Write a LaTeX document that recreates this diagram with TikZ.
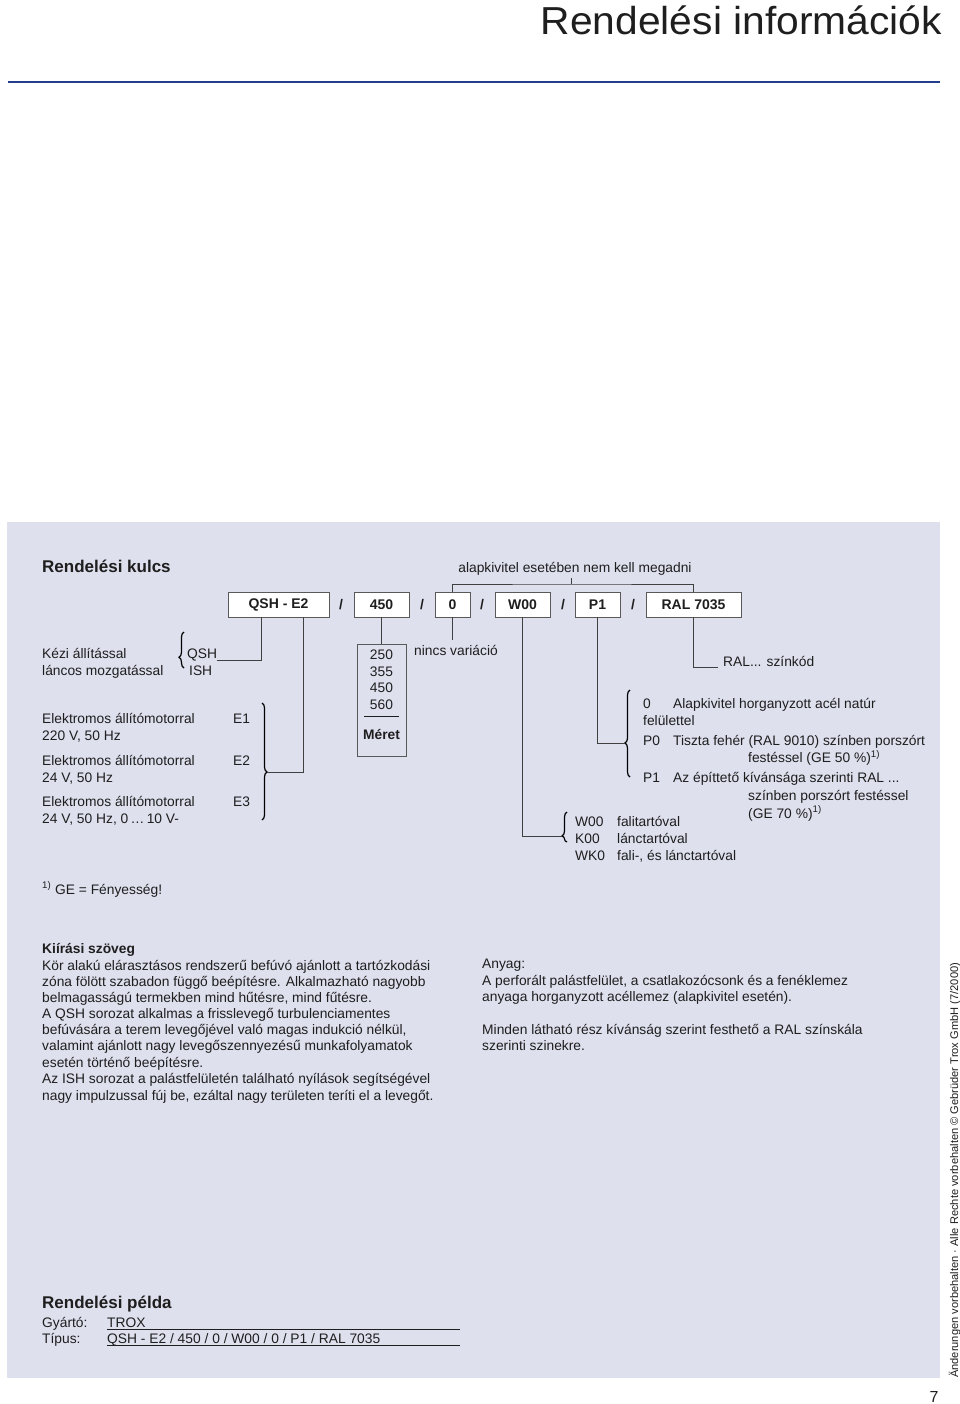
\documentclass[tikz,border=0pt]{standalone}
\usepackage{fontspec}
\setmainfont{Liberation Sans}
\usetikzlibrary{decorations.pathreplacing}
\definecolor{panel}{RGB}{222,224,238}
\definecolor{rulecol}{RGB}{32,62,140}
\definecolor{ink}{RGB}{30,30,30}
\begin{document}
\begin{tikzpicture}[x=1pt,y=-1pt,
  txt/.style={anchor=base west, inner sep=0pt, text=ink, font=\fontsize{13.8}{16}\selectfont},
  ctxt/.style={txt, anchor=base},
  head/.style={txt, font=\bfseries\fontsize{17}{20}\selectfont},
  keybox/.style={draw=black!65, line width=0.9pt, fill=white, inner sep=0pt, minimum height=25pt, text=ink, font=\bfseries\fontsize{14}{16}\selectfont},
  slash/.style={ctxt, font=\bfseries\fontsize{14}{16}\selectfont},
  conn/.style={draw=black!75, line width=0.8pt},
  brc/.style={draw=black, decorate, decoration={brace, amplitude=5pt, aspect=#1}, line width=1.2pt},
  brc/.default=0.5,
]
\useasboundingbox (0,0) rectangle (960,1404);
\fill[white] (0,0) rectangle (960,1404);
% title
\node[anchor=base east, inner sep=0pt, text=ink] (title) at (942,35)
  {\scalebox{1.045}[1]{\fontsize{39}{40}\selectfont Rendelési információk}};
\draw[rulecol, line width=2pt] (8,82) -- (940,82);
% panel
\fill[panel] (7,522) rectangle (940,1378);

\node[head] (hkey) at (42,572) {Rendelési kulcs};
\node[ctxt] (alap) at (575,572) {alapkivitel esetében nem kell megadni};

% key boxes
\node[keybox, minimum width=101pt] (kq) at (278.5,604.5) {QSH - E2};
\node[keybox, minimum width=55pt] (k450) at (381.5,604.5) {450};
\node[keybox, minimum width=35pt] (k0) at (452.5,604.5) {0};
\node[keybox, minimum width=55pt] (kw) at (522.5,604.5) {W00};
\node[keybox, minimum width=45pt] (kp) at (597.5,604.5) {P1};
\node[keybox, minimum width=95pt] (kr) at (693.5,604.5) {RAL 7035};
\node[slash] (s1) at (341,609.5) {/};
\node[slash] (s2) at (422,609.5) {/};
\node[slash] (s3) at (482,609.5) {/};
\node[slash] (s4) at (563,609.5) {/};
\node[slash] (s5) at (633,609.5) {/};

% bracket over optional parts
\coordinate (bk) at (571,584);
\coordinate (bktop) at (571,578);
\draw[conn] (k0.north) |- (bk) -| (kr.north);
\draw[conn] (bk) -- (bktop);

% left descriptions
\node[txt] (kezi1) at (42,658) {Kézi állítással};
\node[txt] (kezi2) at (42,675) {láncos mozgatással};
\node[txt] (qsh) at (187,658) {QSH};
\node[txt] (ish) at (189,675) {ISH};
\node[txt] (el1a) at (42,723) {Elektromos állítómotorral};
\node[txt] (el1b) at (42,740) {220 V, 50 Hz};
\node[txt] (el2a) at (42,765) {Elektromos állítómotorral};
\node[txt] (el2b) at (42,782) {24 V, 50 Hz};
\node[txt] (el3a) at (42,806) {Elektromos állítómotorral};
\node[txt] (el3b) at (42,823) {24 V, 50 Hz, 0\,\dots\,10 V-};
\node[txt] (e1) at (233,723) {E1};
\node[txt] (e2) at (233,765) {E2};
\node[txt] (e3) at (233,806) {E3};

% braces
\draw[brc=0.3] (184,668) -- (184,632);
\draw[brc=0.59] (262,703) -- (262,820);
\draw[brc=0.39] (630,777) -- (630,690);
\draw[brc=0.2] (567,842) -- (567,812);
\coordinate (qshend) at (217,660);
\coordinate (etip) at (267,772);
\coordinate (ptip) at (625,743);
\coordinate (wtip) at (562,836);

\draw[conn] ([xshift=34pt]kq.south west) |- (qshend);
\draw[conn] ([xshift=76pt]kq.south west) |- (etip);

% size box
\node[draw=black!65, line width=0.9pt, inner sep=0pt, minimum width=49pt, minimum height=112pt] (meret) at (381.5,700) {};
\draw[conn] (k450.south) -- (meret.north);
\node[ctxt] (m250) at (381.5,659) {250};
\node[ctxt] (m355) at (381.5,676) {355};
\node[ctxt] (m450) at (381.5,692.5) {450};
\node[ctxt] (m560) at (381.5,709) {560};
\draw[line width=1.6pt, ink] (364,716.5) -- (399,716.5);
\node[ctxt, font=\bfseries\fontsize{13.8}{16}\selectfont] (mlab) at (381.5,739) {Méret};

% nincs variáció
\coordinate (ninc) at (452.5,640);
\draw[conn] (k0.south) -- (ninc);
\node[txt] (nincs) at (414,655) {nincs variáció};

% W00
\draw[conn] (kw.south) |- (wtip);
\node[txt] (w00) at (575,826) {W00};
\node[txt] (k00) at (575,843) {K00};
\node[txt] (wk0) at (575,860) {WK0};
\node[txt] (w00t) at (617,826) {falitartóval};
\node[txt] (k00t) at (617,843) {lánctartóval};
\node[txt] (wk0t) at (617,860) {fali-, és lánctartóval};

% P
\draw[conn] (kp.south) |- (ptip);
\node[txt] (p0a) at (643,708.5) {0};
\node[txt] (p0b) at (673,708.5) {Alapkivitel horganyzott acél natúr};
\node[txt] (p0c) at (643,725) {felülettel};
\node[txt] (pp0) at (643,745) {P0};
\node[txt] (pp0t) at (673,745) {Tiszta fehér (RAL 9010) színben porszórt};
\node[txt] (pp0u) at (748,762.5) {festéssel (GE 50 \%)\textsuperscript{1)}};
\node[txt] (pp1) at (643,782) {P1};
\node[txt] (pp1t) at (673,782) {Az építtető kívánsága szerinti RAL ...};
\node[txt] (pp1u) at (748,800) {színben porszórt festéssel};
\node[txt] (pp1v) at (748,818) {(GE 70 \%)\textsuperscript{1)}};

% RAL
\coordinate (ralend) at (718,667);
\draw[conn] (kr.south) |- (ralend);
\node[txt] (ral) at (723,666) {RAL... színkód};

% footnote
\node[txt] (fn) at (42,894) {\textsuperscript{1)} GE = Fényesség!};

% Kiírási szöveg
\node[txt, font=\bfseries\fontsize{13.8}{16}\selectfont] (kh) at (42,953) {Kiírási szöveg};
\node[txt] (k1) at (42,970) {Kör alakú elárasztásos rendszerű befúvó ajánlott a tartózkodási};
\node[txt] (k2) at (42,986) {zóna fölött szabadon függő beépítésre. Alkalmazható nagyobb};
\node[txt] (k3) at (42,1002) {belmagasságú termekben mind hűtésre, mind fűtésre.};
\node[txt] (k4) at (42,1018) {A QSH sorozat alkalmas a frisslevegő turbulenciamentes};
\node[txt] (k5) at (42,1034) {befúvására a terem levegőjével való magas indukció nélkül,};
\node[txt] (k6) at (42,1050.5) {valamint ajánlott nagy levegőszennyezésű munkafolyamatok};
\node[txt] (k7) at (42,1067) {esetén történő beépítésre.};
\node[txt] (k8) at (42,1083.5) {Az ISH sorozat a palástfelületén található nyílások segítségével};
\node[txt] (k9) at (42,1100) {nagy impulzussal fúj be, ezáltal nagy területen teríti el a levegőt.};

% Anyag
\node[txt] (a0) at (482,968) {Anyag:};
\node[txt] (a1) at (482,985) {A perforált palástfelület, a csatlakozócsonk és a fenéklemez};
\node[txt] (a2) at (482,1001) {anyaga horganyzott acéllemez (alapkivitel esetén).};
\node[txt] (a3) at (482,1034) {Minden látható rész kívánság szerint festhető a RAL színskála};
\node[txt] (a4) at (482,1050) {szerinti szinekre.};

% Rendelési példa
\node[head] (hpel) at (42,1308) {Rendelési példa};
\node[txt] (gy) at (42,1327) {Gyártó:};
\node[txt] (gyv) at (107,1327) {TROX};
\node[txt] (ti) at (42,1343) {Típus:};
\node[txt] (tiv) at (107,1343) {QSH - E2 / 450 / 0 / W00 / 0 / P1 / RAL 7035};
\draw[ink, line width=0.8pt] (107,1329.5) -- (460,1329.5);
\draw[ink, line width=0.8pt] (107,1345.5) -- (460,1345.5);

% side text and page number
\node[rotate=90, anchor=base west, inner sep=0pt, text=ink, font=\fontsize{11.1}{12}\selectfont] (side) at (958,1378)
  {Änderungen vorbehalten · Alle Rechte vorbehalten © Gebrüder Trox GmbH (7/2000)};
\node[anchor=base, inner sep=0pt, text=ink, font=\fontsize{16}{18}\selectfont] (pg) at (934,1402) {7};
\end{tikzpicture}
\end{document}
